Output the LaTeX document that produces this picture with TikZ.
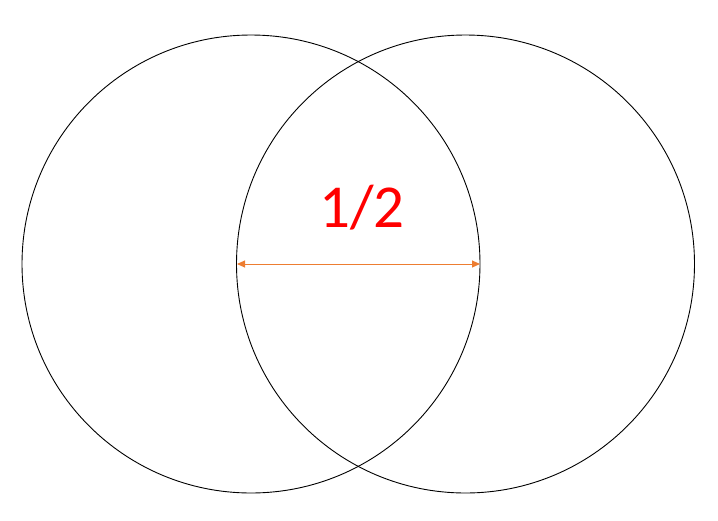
\documentclass[tikz,border=0pt]{standalone}
\usepackage{fontspec}
\setmainfont{Carlito}
\usetikzlibrary{arrows.meta}
\definecolor{arroworange}{RGB}{237,125,49}
\definecolor{labelred}{RGB}{255,0,0}
\tikzset{
  ring/.style={draw=black, line width=0.9pt},
  span/.style={draw=arroworange, line width=1pt, {Triangle[length=8pt,width=7pt]}-{Triangle[length=8pt,width=7pt]}},
  frac/.style={text=labelred, font=\fontsize{61}{64}\selectfont}
}
\begin{document}
\begin{tikzpicture}[x=1pt,y=-1pt]
		%%%%% START %%%%%
		\useasboundingbox (0,0) rectangle (718,520);
		
		\coordinate (cl) at (251,264);
		\coordinate (cr) at (465.5,264);
		\draw[ring] (cl) circle (229);
		\draw[ring] (cr) circle (229);
		
		\coordinate (a) at (237,264);
		\coordinate (b) at (480,264);
		\draw[span] (a) -- (b);
		
		\node[frac] (half) at (362,208) {1/2};
		%%%%% END %%%%%
\end{tikzpicture}
\end{document}
